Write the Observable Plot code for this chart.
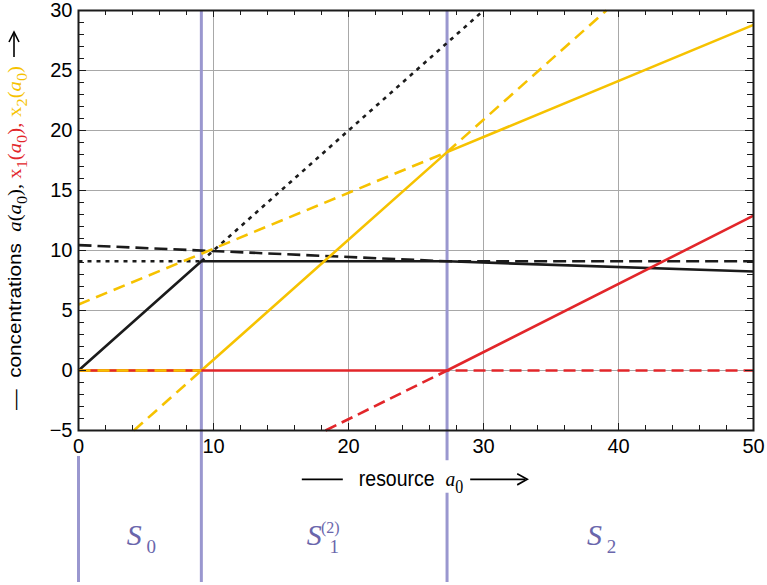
<!DOCTYPE html>
<html><head><meta charset="utf-8">
<script src="https://cdn.jsdelivr.net/npm/d3@7"></script>
<script src="https://cdn.jsdelivr.net/npm/@observablehq/plot@0.6"></script>
<style>body{margin:0;background:#fff}</style>
</head><body><div id="chart"></div>
<script>
// ---------- data ----------
const xDomain = [0, 50];
const yDomain = [-5, 30];
const xMajorTicks = [0, 10, 20, 30, 40, 50];
const yMajorTicks = [-5, 0, 5, 10, 15, 20, 25, 30];
const xGridTicks = [10, 20, 30, 40];
const yGridTicks = [0, 5, 10, 15, 20, 25];
const xMinorTicks = [2, 4, 6, 8, 12, 14, 16, 18, 22, 24, 26, 28, 32, 34, 36, 38, 42, 44, 46, 48];
const yMinorTicks = [-4, -3, -2, -1, 1, 2, 3, 4, 6, 7, 8, 9, 11, 12, 13, 14, 16, 17, 18, 19, 21, 22, 23, 24, 26, 27, 28, 29];

const boundaries = [9.1, 27.3];          // region borders (resource a0)
const originLine = [0];
const regionFrom = [0, 9.1, 27.3];
const regionTo = [9.1, 27.3, 50];
const regionMain = ["S", "S", "S"];
const regionSub = ["0", "1", "2"];
const regionSup = ["", "(2)", ""];

// a(a0) — black
const aSolidX = [0, 9.1, 27.3, 50];
const aSolidY = [0, 9.1, 9.1, 8.25];
const aDashedX = [0, 27.3, 50];
const aDashedY = [10.45, 9.1, 9.1];
const aDotFlatX = [0, 9.1];
const aDotFlatY = [9.1, 9.1];
const aDotDiagX = [9.1, 30];
const aDotDiagY = [9.1, 30];
// x1(a0) — red
const x1SolidX = [0, 27.3, 50];
const x1SolidY = [0, 0, 12.9];
const x1DashedX = [18.3, 27.3, 50];
const x1DashedY = [-5, 0, 0];
// x2(a0) — yellow
const x2SolidX = [0, 9.1, 27.3, 50];
const x2SolidY = [0, 0, 18.2, 28.8];
const x2DashLowX = [4.1, 9.1];
const x2DashLowY = [-5, 0];
const x2DashZeroX = [0, 9.1];
const x2DashZeroY = [0, 0];
const x2DashUpX = [0, 27.3, 39.1];
const x2DashUpY = [5.5, 18.2, 30];

// ---------- styles ----------
const BLACK = "#1b1b1b", RED = "#e2262a", GOLD = "#f6c200", PURPLE = "#9a97cf", SCOL = "#6a66ac";
const SANS = "'Liberation Sans', Arial, Helvetica, sans-serif";
const SERIF = "'Liberation Serif', 'Times New Roman', serif";
const pts = (xs, ys) => xs.map((x, i) => ({x, y: ys[i]}));
const ln = (xs, ys, stroke, dash) => Plot.line(pts(xs, ys), {x: "x", y: "y", stroke, strokeWidth: 2.6, strokeDasharray: dash, strokeLinecap: "butt"});

const plot = Plot.plot({
  width: 767, height: 585,
  marginLeft: 78, marginRight: 14, marginTop: 10, marginBottom: 155,
  x: {domain: xDomain},
  y: {domain: yDomain},
  style: {fontFamily: SANS, fontSize: "20px", background: "white", overflow: "visible", color: "black"},
  marks: [
    Plot.gridX(xGridTicks, {stroke: "#a8a8a8", strokeOpacity: 1, strokeWidth: 1}),
    Plot.gridY(yGridTicks, {stroke: "#a8a8a8", strokeOpacity: 1, strokeWidth: 1}),
    Plot.ruleX(boundaries, {stroke: PURPLE, strokeWidth: 3, insetBottom: -152}),
    Plot.ruleX(originLine, {stroke: PURPLE, strokeWidth: 3, insetTop: 446, insetBottom: -152}),
    ln(aDotFlatX, aDotFlatY, BLACK, "4,5"),
    ln(aDotDiagX, aDotDiagY, BLACK, "4,5"),
    ln(aDashedX, aDashedY, BLACK, "13,6"),
    ln(aSolidX, aSolidY, BLACK, null),
    ln(x2SolidX, x2SolidY, GOLD, null),
    ln(x2DashUpX, x2DashUpY, GOLD, "12,7"),
    ln(x2DashLowX, x2DashLowY, GOLD, "12,7"),
    ln(x1DashedX, x1DashedY, RED, "12,6"),
    ln(x1SolidX, x1SolidY, RED, null),
    ln(x2DashZeroX, x2DashZeroY, GOLD, "12,7"),
    // inward ticks on all four sides
    Plot.ruleX(xMinorTicks, {stroke: BLACK, insetTop: 415}),
    Plot.ruleX(xMinorTicks, {stroke: BLACK, insetBottom: 415}),
    Plot.ruleX(xMajorTicks, {stroke: BLACK, insetTop: 413}),
    Plot.ruleX(xMajorTicks, {stroke: BLACK, insetBottom: 413}),
    Plot.ruleY(yMinorTicks, {stroke: BLACK, insetRight: 669}),
    Plot.ruleY(yMinorTicks, {stroke: BLACK, insetLeft: 669}),
    Plot.ruleY(yMajorTicks, {stroke: BLACK, insetRight: 667}),
    Plot.ruleY(yMajorTicks, {stroke: BLACK, insetLeft: 667}),
    Plot.frame({stroke: BLACK, strokeWidth: 2}),
    Plot.axisX(xMajorTicks, {tickSize: 0, tickPadding: 8, label: null, tickFormat: d => String(d)}),
    Plot.axisY(yMajorTicks, {tickSize: 0, tickPadding: 6, label: null})
  ]
});
document.getElementById("chart").appendChild(plot);

const svg = d3.select(plot);
const xs = plot.scale("x");

function rich(sel, parts, baseSize) {
  let shift = 0;
  for (const p of parts) {
    const size = p.sub || p.sup ? Math.round(baseSize * 0.8) : baseSize;
    const target = p.sub ? baseSize * 0.3 : p.sup ? -baseSize * 0.45 : 0;
    sel.append("tspan")
      .attr("dy", target - shift)
      .style("font-family", p.serif ? SERIF : SANS)
      .style("font-style", p.it ? "italic" : "normal")
      .style("font-size", size + "px")
      .attr("fill", p.c || "black")
      .text(p.t);
    shift = target;
  }
}

// ---- y-axis label (stretched along its length to fit 410 → 65) ----
const yl = svg.append("text")
  .attr("text-anchor", "middle")
  .style("white-space", "pre");
rich(yl, [
  {t: "—  concentrations  "},
  {t: "a", serif: 1, it: 1}, {t: "(", serif: 1}, {t: "a", serif: 1, it: 1}, {t: "0", serif: 1, sub: 1}, {t: "), ", serif: 1},
  {t: "x", serif: 1, c: RED}, {t: "1", serif: 1, sub: 1, c: RED}, {t: "(", serif: 1, c: RED}, {t: "a", serif: 1, it: 1, c: RED}, {t: "0", serif: 1, sub: 1, c: RED}, {t: "),", serif: 1, c: RED},
  {t: " "},
  {t: "x", serif: 1, c: GOLD}, {t: "2", serif: 1, sub: 1, c: GOLD}, {t: "(", serif: 1, c: GOLD}, {t: "a", serif: 1, it: 1, c: GOLD}, {t: "0", serif: 1, sub: 1, c: GOLD}, {t: ")", serif: 1, c: GOLD}
], 19);
const ylLen = yl.node().getComputedTextLength();
const ylTarget = 410 - 66;
const ylScale = ylTarget / ylLen;
yl.attr("transform", `translate(21,${(410 + 66) / 2}) rotate(-90) scale(${ylScale},1)`);
// vertical arrow at the top of the label
svg.append("line").attr("x1", 14).attr("x2", 14).attr("y1", 57).attr("y2", 34).attr("stroke", "black").attr("stroke-width", 1.6);
svg.append("path").attr("d", "M9,42 L14,32 L19,42").attr("fill", "none").attr("stroke", "black").attr("stroke-width", 1.6);

// ---- x-axis label with white backing (gaps the purple border line) ----
const xg = svg.append("g").attr("transform", "translate(0,486) scale(1,1.12) translate(0,-486)");
const bg = xg.append("rect").attr("fill", "white");
const xl = xg.append("text").attr("x", 411).attr("y", 486).attr("text-anchor", "middle").style("white-space", "pre");
rich(xl, [{t: "resource  "}, {t: "a", serif: 1, it: 1}, {t: "0", serif: 1, sub: 1}], 19.5);
const bb = xl.node().getBBox();
bg.attr("x", bb.x - 3).attr("y", 463).attr("width", bb.width + 6).attr("height", 29);
const midY = 480;
xg.append("line").attr("x1", bb.x - 57).attr("x2", bb.x - 16).attr("y1", midY).attr("y2", midY).attr("stroke", "black").attr("stroke-width", 1.6);
const ax0 = bb.x + bb.width + 7, ax1 = ax0 + 57;
xg.append("line").attr("x1", ax0).attr("x2", ax1 - 2).attr("y1", midY).attr("y2", midY).attr("stroke", "black").attr("stroke-width", 1.6);
xg.append("path").attr("d", `M${ax1 - 10},${midY - 5} L${ax1},${midY} L${ax1 - 10},${midY + 5}`).attr("fill", "none").attr("stroke", "black").attr("stroke-width", 1.6);

// ---- region labels S0, S1^(2), S2 ----
regionMain.forEach((m, i) => {
  const cx = xs.apply((regionFrom[i] + regionTo[i]) / 2);
  const g = svg.append("g");
  const t = g.append("text").attr("x", 0).attr("y", 545).attr("fill", SCOL)
    .style("font-family", SERIF).style("font-style", "italic").style("font-size", "30px").text(m);
  const w = t.node().getComputedTextLength();
  let extra = 0;
  const subX = regionSup[i] ? w + 5 : w + 2;
  if (regionSub[i]) {
    const s = g.append("text").attr("x", subX).attr("y", 553).attr("fill", SCOL)
      .style("font-family", SERIF).style("font-size", "19px").text(regionSub[i]);
    extra = Math.max(extra, subX - w + s.node().getComputedTextLength());
  }
  if (regionSup[i]) {
    const s = g.append("text").attr("x", w + 1).attr("y", 533).attr("fill", SCOL)
      .style("font-family", SERIF).style("font-size", "16px").text(regionSup[i]);
    extra = Math.max(extra, 1 + s.node().getComputedTextLength());
  }
  g.attr("transform", `translate(${cx - (w + extra) / 2 + 8},0)`);
});
</script>
</body></html>
